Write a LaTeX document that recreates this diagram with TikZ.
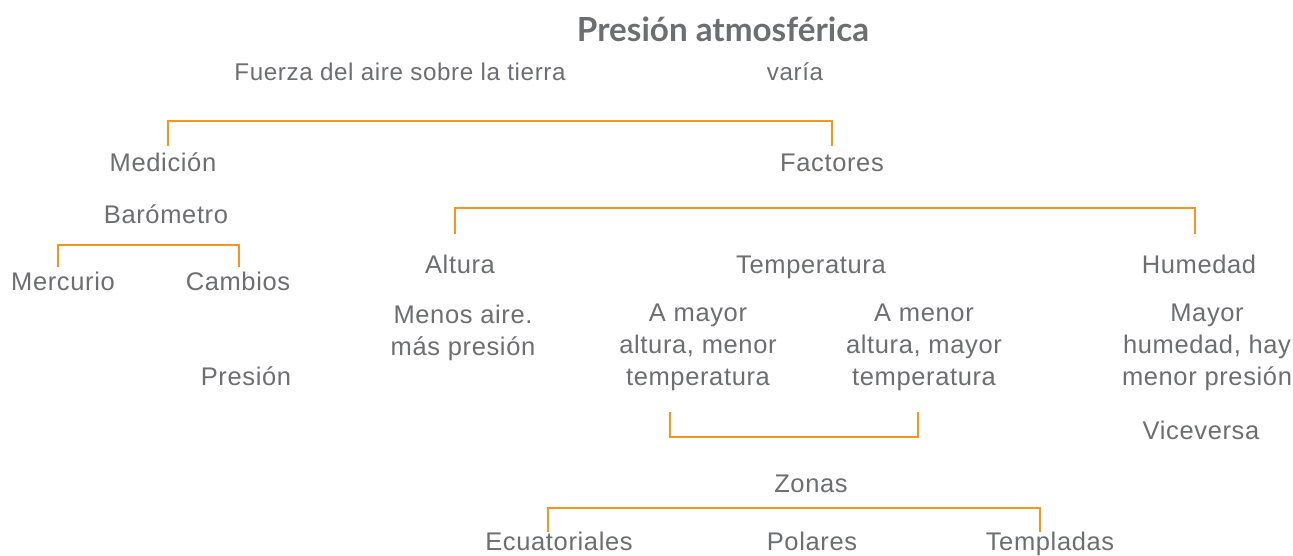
\documentclass[tikz,border=0pt]{standalone}
\usepackage{fontspec}
\setmainfont[LetterSpace=2.5]{Liberation Sans}
\newfontfamily\titlefont{Lato}
\definecolor{txt}{HTML}{6D6E71}
\definecolor{org}{HTML}{F7941D}
\begin{document}
\begin{tikzpicture}[x=1pt,y=-1pt,
  t/.style={text=txt,font=\fontsize{25.5}{32}\selectfont,align=center,inner sep=0pt,anchor=base},
  ts/.style={t,font=\fontsize{24.2}{30}\selectfont},
  tm/.style={t,anchor=north},
  br/.style={draw=org,line width=2.4pt}]
\useasboundingbox (0,0) rectangle (1293,556);
\fill[white] (0,0) rectangle (1293,556);
% texts (single lines placed by baseline; multi-line by top of first line)
\node[text=txt,font=\titlefont\bfseries\fontsize{33.2}{36}\selectfont,inner sep=0pt,anchor=base] (title) at (723,42) {Presión atmosférica};
\node[ts] (fuerza) at (400,81) {Fuerza del aire sobre la tierra};
\node[ts] (varia) at (795,81) {varía};
\node[t] (medicion) at (163,172) {Medición};
\node[t] (factores) at (832,172) {Factores};
\node[t] (barometro) at (166,223) {Barómetro};
\node[t] (mercurio) at (63,290) {Mercurio};
\node[t] (cambios) at (238,290) {Cambios};
\node[t] (presion) at (246,385) {Presión};
\node[t] (altura) at (460,273) {Altura};
\node[t] (temperatura) at (811,273) {Temperatura};
\node[t] (humedad) at (1199,273) {Humedad};
\node[tm] (menos) at (463,304.5) {Menos aire.\\más presión};
\node[tm] (amayor) at (698,304) {A mayor\\altura, menor\\temperatura};
\node[tm] (amenor) at (924,304) {A menor\\altura, mayor\\temperatura};
\node[tm] (mayor) at (1207,304) {Mayor\\humedad, hay\\menor presión};
\node[t] (viceversa) at (1201,439) {Viceversa};
\node[t] (zonas) at (811,492) {Zonas};
\node[t] (ecuatoriales) at (559,550) {Ecuatoriales};
\node[t] (polares) at (812,550) {Polares};
\node[t] (templadas) at (1050,550) {Templadas};
% bracket end coordinates
\coordinate (m1) at (168,146);
\coordinate (f1) at (832,146);
\coordinate (me2) at (58,267);
\coordinate (ca2) at (239,267);
\coordinate (al3) at (455,234);
\coordinate (hu3) at (1195,234);
\coordinate (am4) at (670,412);
\coordinate (an4) at (918,412);
\coordinate (ec5) at (548,532);
\coordinate (te5) at (1040,532);
% brackets
\draw[br] (m1) |- (832,121) -- (f1);
\draw[br] (me2) |- (239,245) -- (ca2);
\draw[br] (al3) |- (1195,208) -- (hu3);
\draw[br] (am4) |- (918,437) -- (an4);
\draw[br] (ec5) |- (1040,508) -- (te5);
\end{tikzpicture}
\end{document}
